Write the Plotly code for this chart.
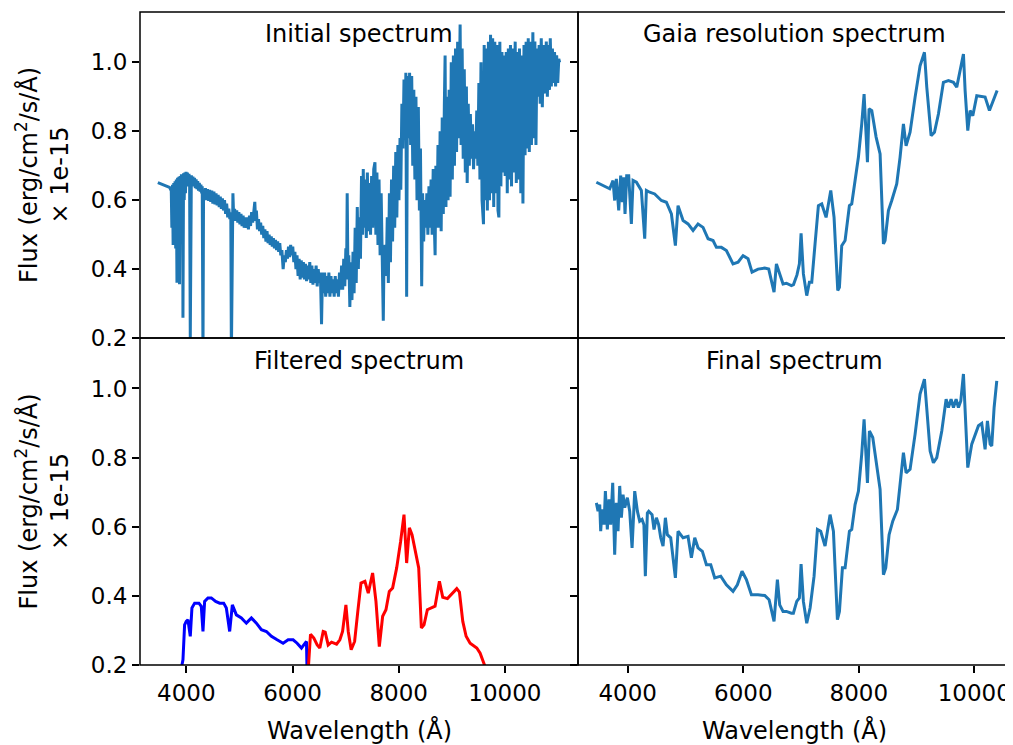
import plotly.graph_objects as go

# ---------------- data ----------------
init_wave = [3464, 3560, 3685, 3717, 3728, 3740, 3752, 3764, 3776, 3788, 3800, 3812, 3824, 3836, 3848, 3860, 3872, 3884, 3896, 3908,
             3920, 3930, 3937, 3948, 3960, 3972, 3984, 3996, 4008, 4020, 4035, 4050, 4062, 4075, 4088,
             4095, 4110, 4125, 4140, 4155, 4170, 4185, 4200, 4215, 4230, 4245, 4260, 4275, 4290, 4300, 4314, 4325,
             4340, 4360, 4380, 4400, 4420, 4440, 4460, 4480, 4500, 4520, 4540, 4560, 4580, 4600, 4620, 4640, 4660, 4680,
             4700, 4720, 4740, 4760, 4780, 4800, 4820, 4838, 4849, 4862, 4878, 4892,
             4910, 4930, 4950, 4970, 4990, 5010, 5030, 5050, 5070, 5090, 5110, 5130, 5150, 5170, 5190, 5210, 5230, 5250, 5270, 5290,
             5305, 5320, 5340, 5360, 5380,
             5400, 5420, 5440, 5460, 5480, 5500, 5520, 5540, 5560, 5580, 5600, 5620, 5640, 5660, 5680, 5700, 5720, 5740, 5760, 5780,
             5800, 5824, 5845, 5865, 5886, 5905, 5925, 5945, 5965, 5985, 6005, 6025,
             6045, 6065, 6085, 6105, 6125, 6145, 6165, 6185, 6205, 6225, 6245, 6265, 6285, 6305, 6325, 6345, 6365, 6385, 6405, 6425,
             6445, 6465, 6485, 6505, 6525, 6547, 6565,
             6585, 6605, 6625, 6645, 6665, 6685, 6705, 6725, 6745, 6765, 6785, 6805, 6825, 6845, 6865, 6885, 6905, 6925, 6945, 6965,
             6985, 7005, 7018, 7030, 7045, 7060, 7080, 7100, 7120, 7140, 7160, 7180, 7200, 7220, 7240, 7260,
             7280, 7300, 7320, 7333, 7350, 7370, 7390, 7410, 7430, 7450, 7470, 7490, 7510, 7530, 7553, 7570, 7590, 7610, 7630, 7650,
             7670, 7690, 7710, 7725, 7745, 7765, 7785, 7805, 7825, 7845, 7865, 7885, 7905, 7925, 7945, 7965, 7985, 8005, 8025, 8040,
             8060, 8080, 8100, 8120, 8135, 8150, 8165, 8185, 8205, 8225, 8245, 8265, 8285, 8305, 8325, 8345, 8370, 8390, 8410, 8433,
             8450, 8470, 8490, 8510, 8530, 8550, 8570, 8590, 8610, 8630, 8650, 8670, 8686, 8700, 8720, 8740, 8760, 8780, 8800, 8820,
             8840, 8860, 8874, 8890, 8910, 8930, 8950, 8968, 8990, 9010, 9030, 9050, 9070, 9090, 9110, 9130, 9157, 9175, 9195, 9215,
             9235, 9255, 9275, 9290, 9310, 9330, 9350, 9370, 9390, 9410, 9430, 9450, 9470, 9490, 9510, 9530, 9550, 9570, 9597, 9610,
             9630, 9650, 9670, 9690, 9710, 9730, 9750, 9770, 9790, 9810, 9830, 9850, 9870, 9887, 9905, 9925, 9945, 9965, 9985, 10005,
             10025, 10045, 10065, 10085, 10105, 10125, 10145, 10165, 10194, 10215, 10235, 10255, 10275, 10300, 10320, 10340, 10360, 10380, 10400, 10420,
             10440, 10460, 10480, 10500, 10527, 10545, 10565, 10585, 10605, 10625, 10645, 10665, 10685, 10705, 10725, 10745, 10760, 10780, 10800, 10820,
             10840, 10855, 10875, 10895, 10915, 10935, 10955, 10975, 10995, 11015, 11031]
init_flux = [0.651, 0.645, 0.637, 0.627, 0.52, 0.645, 0.47, 0.65, 0.50, 0.655, 0.46, 0.66, 0.36, 0.665, 0.49, 0.668, 0.356, 0.67, 0.50, 0.675,
             0.55, 0.672, 0.259, 0.678, 0.60, 0.68, 0.62, 0.682, 0.64, 0.68, 0.65, 0.676, 0.66, 0.20, 0.672,
             0.672, 0.645, 0.668, 0.64, 0.665, 0.635, 0.66, 0.632, 0.655, 0.628, 0.65, 0.625, 0.645, 0.62, 0.64, 0.15, 0.63,
             0.605, 0.635, 0.60, 0.632, 0.598, 0.63, 0.595, 0.628, 0.59, 0.625, 0.588, 0.62, 0.585, 0.615, 0.58, 0.61, 0.575, 0.605,
             0.57, 0.60, 0.56, 0.59, 0.55, 0.575, 0.545, 0.565, 0.15, 0.48, 0.62, 0.55,
             0.575, 0.54, 0.57, 0.535, 0.565, 0.53, 0.56, 0.525, 0.555, 0.52, 0.55, 0.52, 0.55, 0.515, 0.555, 0.525, 0.565, 0.535, 0.58, 0.595,
             0.54, 0.57, 0.515, 0.545, 0.51,
             0.535, 0.50, 0.525, 0.49, 0.515, 0.48, 0.51, 0.475, 0.50, 0.47, 0.495, 0.465, 0.49, 0.46, 0.485, 0.455, 0.48, 0.45, 0.475, 0.44,
             0.455, 0.40, 0.44, 0.42, 0.455, 0.43, 0.465, 0.435, 0.47, 0.44, 0.465, 0.42,
             0.45, 0.40, 0.44, 0.38, 0.43, 0.37, 0.425, 0.375, 0.42, 0.37, 0.415, 0.365, 0.41, 0.37, 0.42, 0.36, 0.41, 0.355, 0.40, 0.36,
             0.41, 0.35, 0.40, 0.36, 0.39, 0.24, 0.39,
             0.33, 0.39, 0.32, 0.38, 0.33, 0.39, 0.32, 0.38, 0.33, 0.37, 0.32, 0.38, 0.33, 0.37, 0.32, 0.39, 0.34, 0.41, 0.34, 0.43,
             0.35, 0.46, 0.37, 0.62, 0.38, 0.44, 0.29, 0.42, 0.31, 0.45, 0.33, 0.52, 0.36, 0.58, 0.40, 0.55,
             0.43, 0.67, 0.50, 0.69, 0.52, 0.66, 0.49, 0.68, 0.51, 0.65, 0.50, 0.67, 0.52, 0.69, 0.71, 0.50, 0.68, 0.47, 0.66, 0.44,
             0.62, 0.43, 0.25, 0.45, 0.47, 0.38, 0.55, 0.36, 0.62, 0.42, 0.66, 0.48, 0.70, 0.52, 0.74, 0.55, 0.76, 0.60, 0.78, 0.63,
             0.88, 0.75, 0.95, 0.80, 0.97, 0.32, 0.96, 0.78, 0.97, 0.76, 0.96, 0.70, 0.92, 0.66, 0.90, 0.60, 0.87, 0.57, 0.75, 0.35,
             0.62, 0.48, 0.60, 0.52, 0.62, 0.50, 0.64, 0.52, 0.66, 0.50, 0.69, 0.53, 0.44, 0.70, 0.52, 0.76, 0.52, 0.80, 0.51, 0.84,
             0.56, 0.88, 1.02, 0.58, 0.90, 0.60, 0.92, 0.61, 1.00, 0.66, 1.02, 0.70, 1.04, 0.74, 1.06, 0.78, 1.11, 0.76, 1.04, 0.72,
             0.98, 0.68, 0.93, 0.65, 0.88, 0.70, 0.85, 0.72, 0.82, 0.69, 0.80, 0.72, 0.86, 0.70, 0.94, 0.66, 1.00, 0.60, 0.53, 1.05,
             0.60, 1.04, 0.57, 1.06, 0.60, 1.08, 0.62, 1.07, 0.58, 1.06, 0.62, 1.05, 0.57, 0.55, 1.06, 0.64, 1.03, 0.68, 1.02, 0.67,
             1.03, 0.62, 1.04, 0.66, 1.05, 0.64, 1.04, 0.68, 1.06, 0.65, 1.03, 0.66, 1.04, 0.62, 1.02, 0.59, 1.05, 0.73, 1.06, 0.75,
             1.07, 0.74, 1.06, 0.76, 1.087, 0.78, 1.06, 0.76, 1.04, 0.90, 1.05, 0.88, 1.07, 0.87, 1.05, 0.92, 0.91, 1.06, 0.90, 1.05,
             0.92, 1.07, 0.93, 1.04, 0.94, 1.03, 0.93, 1.02, 0.94, 1.01, 1.00]

gaia_wave = [3457, 3688, 3745, 3774, 3803, 3844, 3878, 3907, 3930, 3953, 3982, 4017, 4063, 4092, 4150, 4236, 4294, 4323, 4380, 4467,
             4582, 4669, 4756, 4825, 4871, 4958, 5044, 5131, 5217, 5304, 5391, 5477, 5535, 5621, 5708, 5823, 5910, 5997, 6083, 6152,
             6256, 6372, 6441, 6533, 6574, 6631, 6689, 6747, 6833, 6870, 6930, 6972, 7001, 7041, 7099, 7145, 7186, 7243, 7301, 7359,
             7434, 7515, 7572, 7636, 7665, 7705, 7763, 7838, 7878, 7936, 7994, 8051, 8092, 8150, 8178, 8225, 8300, 8369, 8427, 8455,
             8513, 8571, 8657, 8715, 8773, 8819, 8888, 8975, 9061, 9137, 9177, 9252, 9310, 9379, 9465, 9552, 9639, 9696, 9766, 9812,
             9841, 9887, 9927, 9974, 10043, 10129, 10187, 10262, 10331, 10395]
gaia_flux = [0.652, 0.633, 0.657, 0.599, 0.662, 0.570, 0.671, 0.594, 0.666, 0.560, 0.671, 0.671, 0.531, 0.657, 0.652, 0.628, 0.488, 0.628, 0.623, 0.618,
             0.599, 0.594, 0.560, 0.468, 0.584, 0.541, 0.531, 0.512, 0.531, 0.521, 0.488, 0.483, 0.463, 0.463, 0.454, 0.415, 0.420, 0.439, 0.430, 0.391,
             0.400, 0.403, 0.400, 0.333, 0.415, 0.386, 0.357, 0.359, 0.352, 0.355, 0.383, 0.415, 0.504, 0.386, 0.323, 0.362, 0.362, 0.473, 0.584, 0.589,
             0.550, 0.628, 0.550, 0.338, 0.347, 0.468, 0.483, 0.584, 0.589, 0.657, 0.725, 0.821, 0.908, 0.710, 0.865, 0.860, 0.783, 0.734, 0.473, 0.483,
             0.570, 0.599, 0.647, 0.725, 0.821, 0.758, 0.797, 0.899, 0.990, 1.029, 0.928, 0.787, 0.797, 0.850, 0.942, 0.947, 0.942, 0.928, 0.990, 1.024,
             0.918, 0.802, 0.860, 0.845, 0.903, 0.901, 0.899, 0.860, 0.889, 0.918]

blue_wave = [3880, 3937, 3968, 3999, 4031, 4075, 4106, 4157, 4238, 4282, 4314, 4345, 4408, 4471, 4553, 4628, 4704, 4754, 4817, 4867,
             4943, 5037, 5131, 5226, 5320, 5414, 5509, 5603, 5710, 5823, 5918, 6012, 6087, 6169, 6213, 6263, 6276]
blue_flux = [0.17, 0.215, 0.316, 0.326, 0.331, 0.283, 0.365, 0.379, 0.379, 0.370, 0.297, 0.384, 0.394, 0.394, 0.384, 0.379, 0.379, 0.365, 0.297, 0.374,
             0.345, 0.336, 0.321, 0.336, 0.321, 0.302, 0.297, 0.283, 0.273, 0.263, 0.273, 0.273, 0.263, 0.249, 0.258, 0.268, 0.17]

red_wave = [6290, 6339, 6402, 6465, 6515, 6578, 6616, 6672, 6735, 6830, 6892, 6943, 7006, 7050, 7105, 7170, 7230, 7290, 7364, 7427,
            7509, 7572, 7635, 7698, 7760, 7823, 7886, 7962, 8037, 8100, 8150, 8201, 8251, 8314, 8377, 8427, 8477, 8540, 8622, 8685,
            8767, 8830, 8918, 9018, 9094, 9144, 9207, 9270, 9345, 9471, 9534, 9628, 9660]
red_flux = [0.17, 0.289, 0.278, 0.258, 0.249, 0.297, 0.295, 0.258, 0.266, 0.260, 0.273, 0.297, 0.374, 0.297, 0.244, 0.268, 0.355, 0.437, 0.442, 0.408,
            0.466, 0.384, 0.253, 0.341, 0.360, 0.413, 0.423, 0.481, 0.558, 0.635, 0.495, 0.597, 0.577, 0.529, 0.481, 0.307, 0.316, 0.360, 0.367, 0.370,
            0.442, 0.396, 0.392, 0.408, 0.421, 0.411, 0.326, 0.283, 0.263, 0.249, 0.234, 0.195, 0.16]

final_wave = [3457, 3486, 3515, 3532, 3555, 3590, 3613, 3647, 3676, 3705, 3740, 3774, 3803, 3832, 3861, 3890, 3919, 3948, 3994, 4034,
              4075, 4121, 4167, 4207, 4248, 4280, 4305, 4340, 4363, 4421, 4455, 4496, 4536, 4571, 4611, 4652, 4686, 4744, 4825, 4871,
              4958, 5044, 5102, 5160, 5217, 5292, 5362, 5437, 5506, 5610, 5708, 5823, 5898, 5979, 6054, 6141, 6256, 6372, 6447, 6533,
              6591, 6631, 6689, 6747, 6833, 6868, 6926, 6972, 7001, 7041, 7099, 7157, 7226, 7284, 7341, 7416, 7503, 7561, 7630, 7665,
              7717, 7763, 7838, 7878, 7936, 7994, 8051, 8092, 8150, 8184, 8242, 8311, 8369, 8427, 8467, 8525, 8588, 8669, 8727, 8773,
              8819, 8888, 8975, 9061, 9137, 9177, 9235, 9292, 9350, 9437, 9512, 9552, 9598, 9639, 9685, 9725, 9766, 9812, 9852, 9887,
              9956, 10014, 10072, 10129, 10187, 10227, 10274, 10302, 10343, 10389]
final_flux = [0.669, 0.645, 0.664, 0.587, 0.650, 0.606, 0.703, 0.592, 0.679, 0.606, 0.727, 0.519, 0.669, 0.587, 0.718, 0.626, 0.693, 0.655, 0.684, 0.645,
              0.539, 0.703, 0.645, 0.616, 0.621, 0.606, 0.457, 0.640, 0.645, 0.635, 0.592, 0.626, 0.606, 0.568, 0.544, 0.626, 0.577, 0.568, 0.452, 0.587,
              0.568, 0.572, 0.510, 0.568, 0.539, 0.529, 0.490, 0.490, 0.452, 0.457, 0.432, 0.413, 0.432, 0.471, 0.447, 0.403, 0.403, 0.401, 0.389, 0.326,
              0.447, 0.374, 0.355, 0.355, 0.350, 0.350, 0.384, 0.394, 0.492, 0.384, 0.321, 0.365, 0.457, 0.592, 0.587, 0.544, 0.635, 0.587, 0.331, 0.355,
              0.481, 0.481, 0.587, 0.592, 0.664, 0.703, 0.810, 0.911, 0.727, 0.877, 0.858, 0.781, 0.708, 0.461, 0.481, 0.577, 0.616, 0.650, 0.732, 0.814,
              0.756, 0.766, 0.868, 0.984, 1.027, 0.935, 0.819, 0.785, 0.800, 0.877, 0.969, 0.945, 0.969, 0.945, 0.969, 0.945, 0.964, 1.042, 0.897, 0.771,
              0.839, 0.868, 0.892, 0.899, 0.824, 0.906, 0.839, 0.834, 0.945, 1.022]

panel_titles = ["Initial spectrum", "Gaia resolution spectrum", "Filtered spectrum", "Final spectrum"]
x_ticks = [4000, 6000, 8000, 10000]
x_tick_text = ["4000", "6000", "8000", "10000"]
y_ticks = [0.2, 0.4, 0.6, 0.8, 1.0]
y_label = "Flux (erg/cm<sup>2</sup>/s/Å)<br>× 1e-15"
x_label = "Wavelength (Å)"

# ---------------- figure ----------------
BLUE_MPL = "#1f77b4"
LW = 3
FONT = "DejaVu Sans"

fig = go.Figure()
fig.add_trace(go.Scatter(x=init_wave, y=init_flux, mode="lines", line=dict(color=BLUE_MPL, width=LW), xaxis="x", yaxis="y"))
fig.add_trace(go.Scatter(x=gaia_wave, y=gaia_flux, mode="lines", line=dict(color=BLUE_MPL, width=LW), xaxis="x2", yaxis="y2"))
fig.add_trace(go.Scatter(x=blue_wave, y=blue_flux, mode="lines", line=dict(color="blue", width=LW), xaxis="x3", yaxis="y3"))
fig.add_trace(go.Scatter(x=red_wave, y=red_flux, mode="lines", line=dict(color="red", width=LW), xaxis="x3", yaxis="y3"))
fig.add_trace(go.Scatter(x=final_wave, y=final_flux, mode="lines", line=dict(color=BLUE_MPL, width=LW), xaxis="x4", yaxis="y4"))

# page body has an 8px margin: compensate so the plot lands where the reference's is
OFF = 8
L, R, T, B = 140 - OFF, 3, 12 - OFF, 80
W, H = 1013 - OFF, 745 - OFF
pw, ph = W - L - R, H - T - B
xsplit = (578 - 140) / pw
ysplit = (665 - 338) / ph

common = dict(showline=False, showgrid=False, zeroline=False,
              tickcolor="black", tickwidth=1.5, ticklen=7, tickfont=dict(family=FONT, size=23, color="black"))
left_range = [3128, 11377]
right_range = [3139, 10618]
yr = [0.2, 1.146]

fig.update_layout(
    width=W, height=H, margin=dict(l=L, r=R, t=T, b=B),
    plot_bgcolor="white", paper_bgcolor="white", showlegend=False,
    font=dict(family=FONT, size=23, color="black"),
    xaxis=dict(domain=[0, xsplit], anchor="y", range=left_range, ticks="", showticklabels=False, **common),
    xaxis2=dict(domain=[xsplit, 1], anchor="y2", range=right_range, ticks="", showticklabels=False, **common),
    xaxis3=dict(domain=[0, xsplit], anchor="y3", range=left_range, ticks="outside", tickvals=x_ticks, ticktext=x_tick_text, **common),
    xaxis4=dict(domain=[xsplit, 1], anchor="y4", range=right_range, ticks="outside", tickvals=x_ticks, ticktext=x_tick_text, **common),
    yaxis=dict(domain=[ysplit, 1], anchor="x", range=yr, ticks="outside", tickvals=y_ticks, tickformat=".1f", **common),
    yaxis2=dict(domain=[ysplit, 1], anchor="x2", range=yr, ticks="outside", tickvals=y_ticks, showticklabels=False, **common),
    yaxis3=dict(domain=[0, ysplit], anchor="x3", range=yr, ticks="outside", tickvals=y_ticks, tickformat=".1f", **common),
    yaxis4=dict(domain=[0, ysplit], anchor="x4", range=yr, ticks="outside", tickvals=y_ticks, showticklabels=False, **common),
)

# panel frames (shared edges coincide exactly)
shapes = []
for xa, ya in [("x", "y"), ("x2", "y2"), ("x3", "y3"), ("x4", "y4")]:
    shapes.append(dict(type="rect", xref=f"{xa} domain", yref=f"{ya} domain", x0=0, x1=1, y0=0, y1=1,
                       line=dict(color="black", width=1.5), fillcolor="rgba(0,0,0,0)", layer="above"))
fig.update_layout(shapes=shapes)

# helpers: reference-screen pixel -> paper coordinates
def px_x(p):
    return (p - 140) / pw

def px_y(p):
    return (665 - p) / ph

ann = []
cx_left = xsplit / 2
cx_right = (xsplit + 1) / 2
for title, cx, cy in [(panel_titles[0], cx_left, px_y(34)), (panel_titles[1], cx_right, px_y(34)),
                      (panel_titles[2], cx_left, px_y(361)), (panel_titles[3], cx_right, px_y(361))]:
    ann.append(dict(text=title, x=cx, y=cy, xref="paper", yref="paper", xanchor="center", yanchor="middle",
                    showarrow=False, font=dict(family=FONT, size=24, color="black")))
for cx in (cx_left, cx_right):
    ann.append(dict(text=x_label, x=cx, y=px_y(730), xref="paper", yref="paper", xanchor="center", yanchor="middle",
                    showarrow=False, font=dict(family=FONT, size=24, color="black")))
for cy in ((ysplit + 1) / 2, ysplit / 2):
    ann.append(dict(text=y_label, x=px_x(42), y=cy, xref="paper", yref="paper", xanchor="center", yanchor="middle",
                    textangle=-90, showarrow=False, font=dict(family=FONT, size=24, color="black")))
fig.update_layout(annotations=ann)

fig.write_html("out.html")
